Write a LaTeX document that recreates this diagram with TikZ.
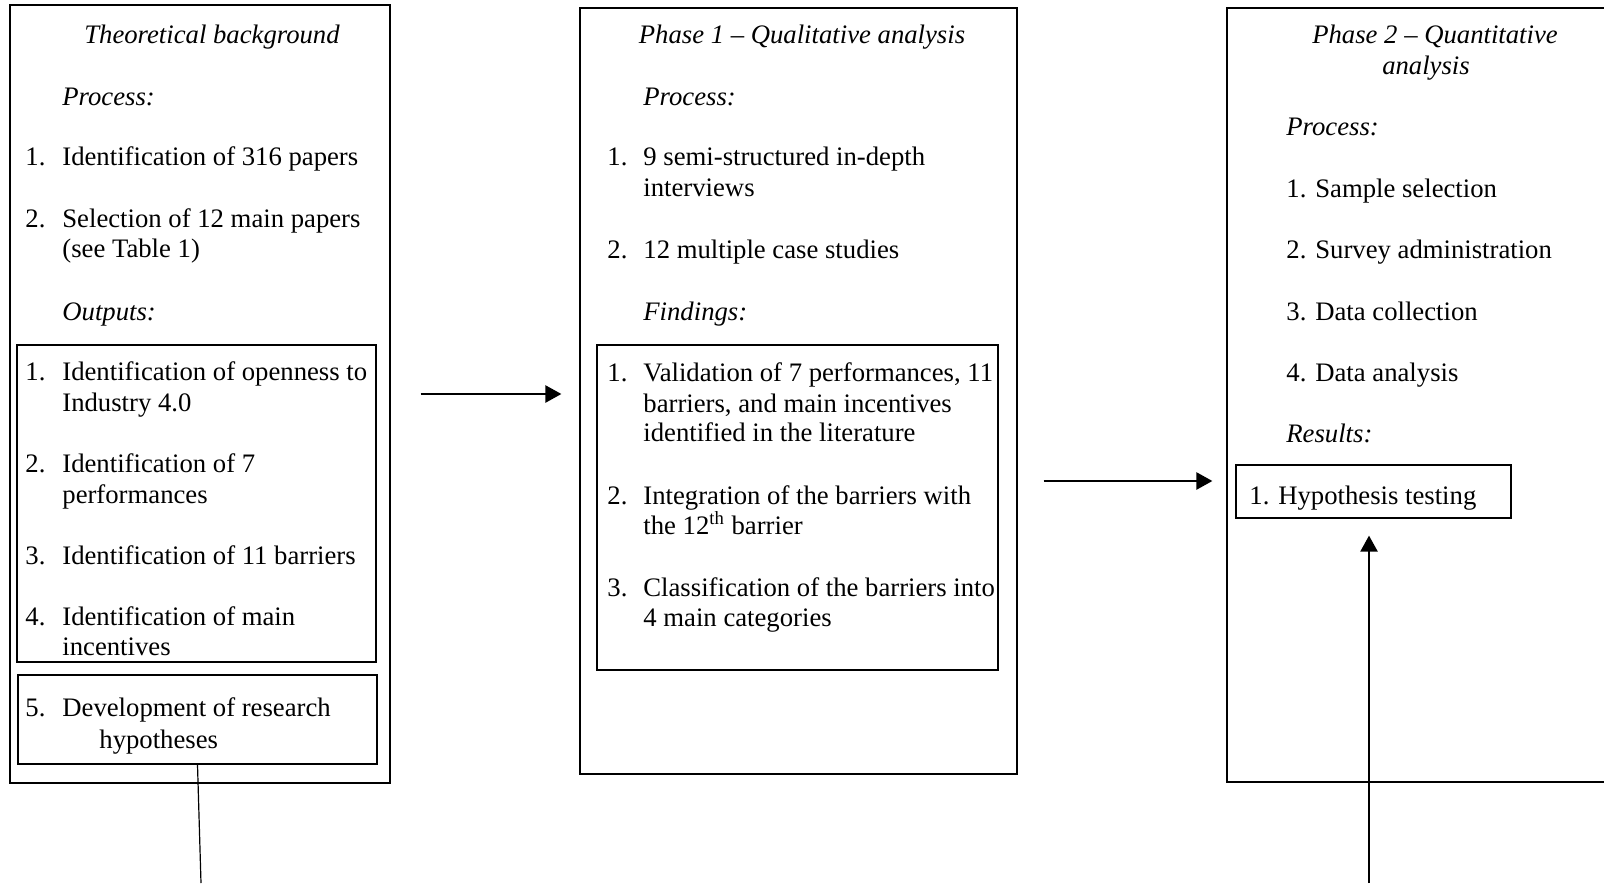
\documentclass[tikz,border=0pt]{standalone}
\usepackage{fontspec}
\setmainfont{Liberation Serif}
\usetikzlibrary{arrows.meta,fit}
\begin{document}
\begin{tikzpicture}[x=0.5pt,y=-0.5pt,
  frame/.style={draw, line width=0.6pt, inner sep=0pt},
  txt/.style={anchor=base west, inner sep=0pt, yshift=-1pt, font=\fontsize{13.35}{16}\selectfont},
  head/.style={txt, font=\fontsize{13.35}{16}\selectfont\itshape},
  ttl/.style={head, anchor=base},
  flow/.style={line width=1.2pt, -{Triangle[length=8pt,width=8.5pt]}},
  link/.style={line width=0.6pt}]
\clip (0,0) rectangle (1604,883);

% ---- frames ----
\node[frame, fit={(10,5)(390,783)}] (theory) {};
\node[frame, fit={(17,345)(376,662)}] (outputs) {};
\node[frame, fit={(18,675)(377,764)}] (hypdev) {};
\node[frame, fit={(580,8)(1017,774)}] (phase1) {};
\node[frame, fit={(597,345)(998,670)}] (findings) {};
\node[frame, fit={(1227,8)(1650,782)}] (phase2) {};
\node[frame, fit={(1236,465)(1511,518)}] (results) {};

% ---- theoretical background ----
\node[ttl] (tb0) at (212,41.8) {Theoretical background};
\node[head] (tb1) at (62,103.2) {Process:};
\node[txt] (tb2n) at (25,163.5) {1.};
\node[txt] (tb2) at (62,163.5) {Identification of 316 papers};
\node[txt] (tb3n) at (25,225.9) {2.};
\node[txt] (tb3) at (62,225.9) {Selection of 12 main papers};
\node[txt] (tb3b) at (62,255.6) {(see Table 1)};
\node[head] (tb4) at (62,318) {Outputs:};
\node[txt] (tb5n) at (25,378.3) {1.};
\node[txt] (tb5) at (62,378.3) {Identification of openness to};
\node[txt] (tb5b) at (62,409) {Industry 4.0};
\node[txt] (tb6n) at (25,470.4) {2.};
\node[txt] (tb6) at (62,470.4) {Identification of 7};
\node[txt] (tb6b) at (62,501) {performances};
\node[txt] (tb7n) at (25,562.5) {3.};
\node[txt] (tb7) at (62,562.5) {Identification of 11 barriers};
\node[txt] (tb8n) at (25,623.9) {4.};
\node[txt] (tb8) at (62,623.9) {Identification of main};
\node[txt] (tb8b) at (62,653.5) {incentives};
\node[txt] (tb9n) at (25,714.9) {5.};
\node[txt] (tb9) at (62,714.9) {Development of research};
\node[txt] (tb9b) at (99,746.6) {hypotheses};

% ---- phase 1 ----
\node[ttl] (pa0) at (802,41.8) {Phase 1 – Qualitative analysis};
\node[head] (pa1) at (643,103.2) {Process:};
\node[txt] (pa2n) at (607,163.5) {1.};
\node[txt] (pa2) at (643,163.5) {9 semi-structured in-depth};
\node[txt] (pa2b) at (643,194.2) {interviews};
\node[txt] (pa3n) at (607,256.6) {2.};
\node[txt] (pa3) at (643,256.6) {12 multiple case studies};
\node[head] (pa4) at (643,318) {Findings:};
\node[txt] (pa5n) at (607,379.4) {1.};
\node[txt] (pa5) at (643,379.4) {Validation of 7 performances, 11};
\node[txt] (pa5b) at (643,410) {barriers, and main incentives};
\node[txt] (pa5c) at (643,439.7) {identified in the literature};
\node[txt] (pa6n) at (607,502) {2.};
\node[txt] (pa6) at (643,502) {Integration of the barriers with};
\node[txt] (pa6b) at (643,532.8) {the 12\textsuperscript{th} barrier};
\node[txt] (pa7n) at (607,594.2) {3.};
\node[txt] (pa7) at (643,594.2) {Classification of the barriers into};
\node[txt] (pa7b) at (643,624.9) {4 main categories};

% ---- phase 2 ----
\node[ttl] (pb0) at (1435,41.8) {Phase 2 – Quantitative};
\node[ttl] (pb0b) at (1426,72.5) {analysis};
\node[head] (pb1) at (1286,133.9) {Process:};
\node[txt] (pb2) at (1286,195.2) {1. Sample selection};
\node[txt] (pb3) at (1286,256.6) {2. Survey administration};
\node[txt] (pb4) at (1286,318) {3. Data collection};
\node[txt] (pb5) at (1286,379.4) {4. Data analysis};
\node[head] (pb6) at (1286,440.8) {Results:};
\node[txt] (pb7) at (1249,502) {1. Hypothesis testing};

% ---- connectors ----
\coordinate (linkfoot) at (201,883);
\coordinate (midrow) at (0,481);
\coordinate (upfoot) at (1369,883);
\draw[link] (hypdev.south) -- (linkfoot);
\draw[flow, shorten <=15pt, shorten >=9pt] (theory.east) -- (theory.east -| phase1.west);
\draw[flow, shorten <=13pt, shorten >=7pt] (phase1.east |- midrow) -- (phase2.west |- midrow);
\draw[flow, shorten >=8.5pt] (upfoot) -- (upfoot |- results.south);
\end{tikzpicture}
\end{document}
